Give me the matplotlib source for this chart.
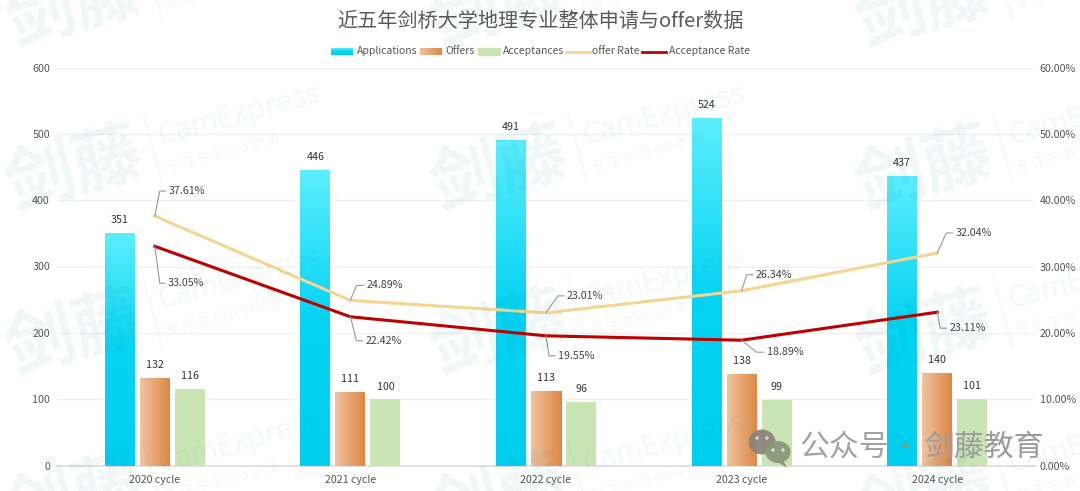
import numpy as np
import matplotlib
matplotlib.use("Agg")
import matplotlib.pyplot as plt
from matplotlib.patches import Rectangle, Ellipse, Polygon
from matplotlib.colors import LinearSegmentedColormap
from matplotlib.lines import Line2D

plt.rcParams['font.family'] = ['Noto Sans CJK SC', 'DejaVu Sans']

title = '近五年剑桥大学地理专业整体申请与offer数据'
cycles = ['2020 cycle', '2021 cycle', '2022 cycle', '2023 cycle', '2024 cycle']
applications = [351, 446, 491, 524, 437]
offers = [132, 111, 113, 138, 140]
acceptances = [116, 100, 96, 99, 101]
offer_rate = [37.61, 24.89, 23.01, 26.34, 32.04]
acceptance_rate = [33.05, 22.42, 19.55, 18.89, 23.11]
left_ticks = [0, 100, 200, 300, 400, 500, 600]
right_ticks = [0, 10, 20, 30, 40, 50, 60]

# leader-line elbows relative to each point, in pixels (dx1, dy1, dx2)
offer_leaders = [(5, 25, 11), (6, 15, 13), (12, 17, 18), (5, 16, 11), (9, 20, 15)]
accept_leaders = [(5, -37, 10), (6, -24, 12), (3, -20, 9), (15, -12, 22), (3, -16, 9)]

W, H = 1080, 491
L, R, T, B = 57, 1035, 67.5, 465.5
FS = 7.7
fig = plt.figure(figsize=(W / 100, H / 100), dpi=100, facecolor='white')
ax = fig.add_axes([L / W, 1 - B / H, (R - L) / W, (B - T) / H])
ax2 = ax.twinx()
ax.set_zorder(2); ax2.set_zorder(3)
ax.patch.set_alpha(0); ax2.patch.set_alpha(0)


def fx(x):
    return x / W


def fy(y):
    return 1 - y / H


# ---------- axes ----------
ax.set_xlim(-0.5, 4.5)
ax.set_ylim(0, 600)
ax2.set_ylim(0, 60)
ax.set_yticks(left_ticks)
ax.set_yticklabels([str(v) for v in left_ticks], fontsize=FS, color='#555555')
ax2.set_yticks(right_ticks)
ax2.set_yticklabels([f'{v:.2f}%' for v in right_ticks], fontsize=FS, color='#555555')
ax.set_xticks(range(5))
ax.set_xticklabels(cycles, fontsize=FS, color='#555555')
ax.tick_params(axis='x', length=0, pad=6.5)
ax.tick_params(axis='y', length=0, pad=5)
ax2.tick_params(axis='y', length=0, pad=3.5)
for a in (ax, ax2):
    for s in a.spines.values():
        s.set_visible(False)
ax.spines['bottom'].set_visible(True)
ax.spines['bottom'].set_color('#dddddd')
ax.spines['bottom'].set_linewidth(1.2)
ax.grid(axis='y', color='#f0f1f2', lw=1)
ax.set_axisbelow(True)

# ---------- bars ----------
cm_app = LinearSegmentedColormap.from_list('a', ['#00cff0', '#06d4f3', '#5ceeff'])
cm_off = LinearSegmentedColormap.from_list('o', ['#f0c4a0', '#de8743'])
vert = np.linspace(0, 1, 256).reshape(-1, 1)
horz = np.linspace(0, 1, 256).reshape(1, -1)

bw = 30 / 195.6
pitch = 35 / 195.6
x = np.arange(5)


def gradient_bars(xs, vals, cmap, grad):
    bars = ax.bar(xs, vals, bw, color='none', zorder=3)
    for b in bars:
        x0, w, h = b.get_x(), b.get_width(), b.get_height()
        ax.imshow(grad, cmap=cmap, origin='lower', extent=[x0, x0 + w, 0, h], aspect='auto', zorder=3)
    ax.set_xlim(-0.5, 4.5)
    ax.set_ylim(0, 600)


gradient_bars(x - pitch, applications, cm_app, vert)
gradient_bars(x, offers, cm_off, horz)
ax.bar(x + pitch, acceptances, bw, color='#cae5b4', zorder=3)

for xs, vals in ((x - pitch, applications), (x, offers), (x + pitch, acceptances)):
    for xi, v in zip(xs, vals):
        ax.annotate(str(v), (xi, v), xytext=(0, 5.5), textcoords='offset points', ha='center', va='bottom',
                    fontsize=FS, color='#333333', zorder=6)

# ---------- lines ----------
ax2.plot(x, offer_rate, color='#f4d592', lw=2.2, zorder=4, solid_joinstyle='round')
ax2.plot(x, acceptance_rate, color='#c00000', lw=2.2, zorder=5, solid_joinstyle='round')


def leaders(vals, specs):
    for xi, v, (dx1, dy1, dx2) in zip(x, vals, specs):
        p0 = ax2.transData.transform((xi, v))
        pts = np.array([p0, p0 + (dx1, dy1), p0 + (dx2, dy1)])
        fig.add_artist(Line2D(pts[:, 0] / W, pts[:, 1] / H, transform=fig.transFigure, color='#999999', lw=0.8,
                              zorder=7))
        fig.text((pts[2, 0] + 3) / W, pts[2, 1] / H, f'{v:.2f}%', fontsize=FS, color='#444444', ha='left',
                 va='center', zorder=7)


leaders(offer_rate, offer_leaders)
leaders(acceptance_rate, accept_leaders)

# ---------- title ----------
fig.text(fx(540), fy(21), title, fontsize=14.5, color='#5a5a5a', ha='center', va='center')

# ---------- legend ----------
leg_y = 51.5
for (x0, x1, cmap, grad) in [(331, 353, cm_app, vert), (420, 442, cm_off, horz)]:
    lax = fig.add_axes([fx(x0), fy(55), (x1 - x0) / W, 7 / H], zorder=4)
    lax.imshow(grad, cmap=cmap, origin='lower', aspect='auto')
    lax.axis('off')
fig.add_artist(Rectangle((fx(478), fy(55)), 22 / W, 7 / H, transform=fig.transFigure, color='#cae5b4'))
fig.add_artist(Line2D([fx(566), fx(590)], [fy(leg_y)] * 2, color='#f4d592', lw=2))
fig.add_artist(Line2D([fx(642), fx(666)], [fy(leg_y)] * 2, color='#c00000', lw=2))
for tx, s in [(357, 'Applications'), (445, 'Offers'), (503, 'Acceptances'), (592, 'offer Rate'),
              (669, 'Acceptance Rate')]:
    fig.text(fx(tx), fy(leg_y), s, fontsize=7.5, color='#555555', ha='left', va='center')

# ---------- watermark + account mark (drawn over the chart, faint) ----------
over = fig.add_axes([0, 0, 1, 1], zorder=9)
over.set_xlim(0, W); over.set_ylim(H, 0); over.axis('off'); over.patch.set_alpha(0)
teal = '#007a78'
for cx in (75, 500, 925):
    for cy in (7, 171, 335, 499):
        over.text(cx, cy, '剑藤', fontsize=50, color=teal, alpha=0.06, rotation=15, ha='center', va='center',
                  rotation_mode='anchor', fontweight='bold', clip_on=True)
        over.plot([cx + 68, cx + 87], [cy - 58, cy + 11], color=teal, alpha=0.05, lw=1)
        over.text(cx + 83, cy - 34, 'CamExpress', fontsize=21, color=teal, alpha=0.055, rotation=15, ha='left',
                  va='center', rotation_mode='anchor', clip_on=True, family=['Open Sans'])
        over.text(cx + 92, cy - 3, '专 注 牛 剑 G 5 申 请', fontsize=9.5, color=teal, alpha=0.05, rotation=15,
                  ha='left', va='center', rotation_mode='anchor', clip_on=True)

over.add_patch(Ellipse((762, 442), 27, 25, color='#8e8478', alpha=0.95, lw=0))
over.add_patch(Ellipse((778, 452), 25, 22, color='#8a9a7a', alpha=0.97, lw=0))
over.add_patch(Polygon([[783, 460], [787, 468], [778, 462]], color='#8a9a7a', lw=0))
for (a, b) in [(757, 438), (767, 438), (773, 450), (783, 450)]:
    over.add_patch(Ellipse((a, b), 3.5, 3.5, color='white', alpha=0.65, lw=0))
over.text(799, 447, '公众号', fontsize=21.5, color='#a2a2a2', ha='left', va='center')
over.text(905, 447, '·', fontsize=17, color='#8a9a7a', ha='center', va='center')
over.text(924, 447, '剑藤教育', fontsize=21.5, color='#9c9c9c', ha='left', va='center')

fig.savefig('out.png', dpi=100)
